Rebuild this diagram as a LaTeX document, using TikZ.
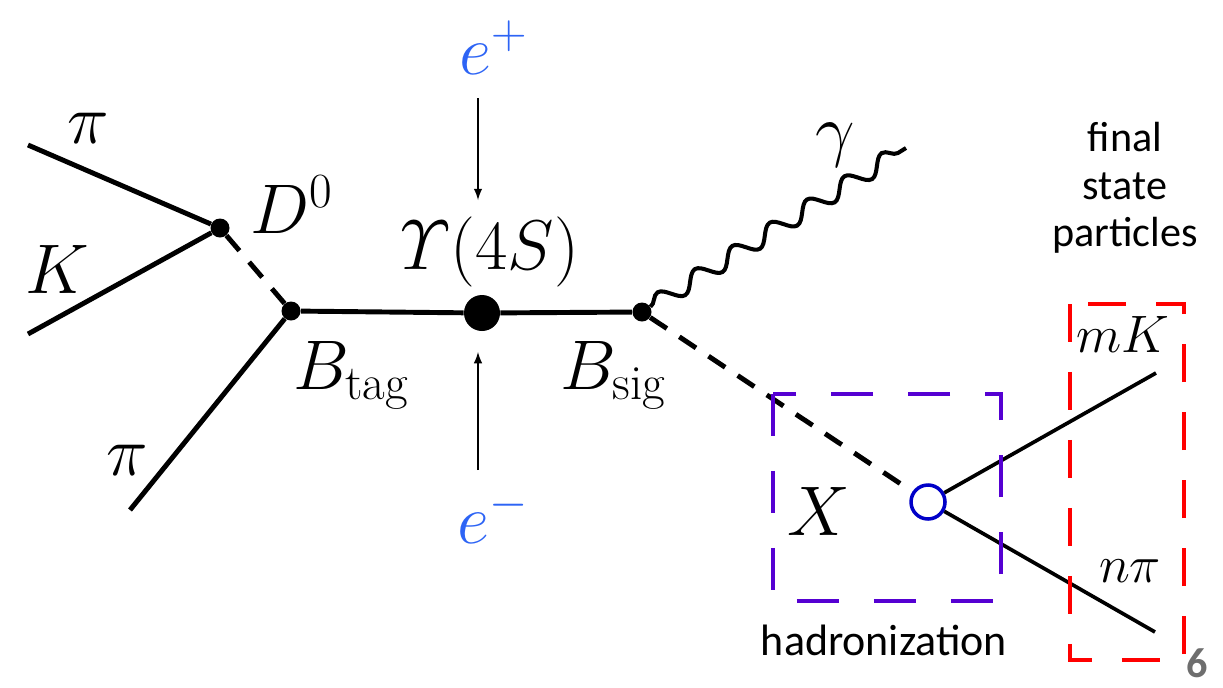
\documentclass[tikz,border=0pt]{standalone}
\usepackage{fix-cm}
\usepackage{amsmath}
\usepackage{fontspec}
\setsansfont{Carlito}
\usetikzlibrary{decorations.pathmorphing}

\definecolor{beamblue}{RGB}{45,100,245}
\definecolor{xblue}{RGB}{0,0,200}
\definecolor{hadviolet}{RGB}{85,0,210}
\definecolor{pagegray}{RGB}{110,110,110}

\begin{document}
\begin{tikzpicture}[x=0.02cm, y=-0.02cm, >=latex,
    vtx/.style={circle, fill, inner sep=0pt, minimum size=0.38cm},
    lbl/.style={font=\fontsize{40}{48}\selectfont, anchor=base, inner sep=0pt},
    sml/.style={font=\fontsize{30}{36}\selectfont, anchor=base, inner sep=0pt},
    sftxt/.style={font=\sffamily\fontsize{24}{27}\selectfont, inner sep=0pt},
    prt/.style={line width=2.8pt},
    dsh/.style={line width=2.8pt, dash pattern=on 0.4cm off 0.3cm}]
    \useasboundingbox (0,0) rectangle (1223,687);

    % 顶点
    \node[vtx] (d0) at (220,228) {};
    \node[vtx] (btag) at (291,311) {};
    \node[vtx, minimum size=0.72cm] (ups) at (482,313) {};
    \node[vtx] (bsig) at (642,312) {};
    \node[circle, draw=xblue, line width=2pt, fill=white, inner sep=0pt, minimum size=0.68cm] (xv) at (928,502) {};

    % 自由端点
    \coordinate (pia) at (28,145);
    \coordinate (ka) at (28,334);
    \coordinate (pib) at (130,510);
    \coordinate (gend) at (906,148);
    \coordinate (mkend) at (1156,373);
    \coordinate (npend) at (1155,632);
    \coordinate (epa) at (478,98);
    \coordinate (epb) at (478,200);
    \coordinate (ema) at (478,470);
    \coordinate (emb) at (478,352);

    % tag 一侧
    \draw[prt] (pia) -- (d0);
    \draw[prt] (ka) -- (d0);
    \draw[dsh] (d0) -- (btag);
    \draw[prt] (pib) -- (btag);
    \draw[prt] (btag) -- (ups) -- (bsig);

    % signal 一侧
    \draw[line width=2.3pt, decorate, decoration={snake, amplitude=0.17cm, segment length=0.88cm}] (bsig) -- (gend);
    \draw[dsh] (bsig) -- (xv);
    \draw[line width=2.1pt] (xv) -- (mkend);
    \draw[line width=2.1pt] (xv) -- (npend);

    % 束流
    \draw[->, line width=1.2pt] (epa) -- (epb);
    \draw[->, line width=1.2pt] (ema) -- (emb);

    % 虚线框
    \draw[hadviolet, line width=2.2pt, dash pattern=on 0.84cm off 0.7cm] (773,394) rectangle (1001,601);
    \draw[red, line width=2.2pt, dash pattern=on 0.76cm off 0.6cm] (1070,304) rectangle (1184,660);

    % 标注
    \node[lbl] (pitop) at (88,143) {$\pi$};
    \node[lbl] (kl) at (57,293) {$K$};
    \node[lbl] (pibot) at (127,475) {$\pi$};
    \node[lbl] (d0l) at (292,233) {$D^0$};
    \node[lbl] (btagl) at (351,389) {$B_{\mathrm{tag}}$};
    \node[lbl] (upsl) at (490,269) {$\varUpsilon(4S)$};
    \node[lbl] (bsigl) at (613,389) {$B_{\mathrm{sig}}$};
    \node[lbl] (gl) at (835,153) {$\gamma$};
    \node[lbl, beamblue] (ep) at (494,74) {$e^+$};
    \node[lbl, beamblue] (em) at (493,543) {$e^-$};
    \node[lbl] (xl) at (819,535) {$X$};
    \node[sml] (mkl) at (1123,352) {$mK$};
    \node[sml] (npl) at (1130,582) {$n\pi$};
    \node[sftxt, align=center] (fsl) at (1125,188) {final\\state\\particles};
    \node[sftxt, anchor=base, font=\sffamily\fontsize{25}{28}\selectfont] (hadl) at (884,655) {hadronization};
    \node[font=\sffamily\bfseries\fontsize{24}{28}\selectfont, text=pagegray, anchor=base, inner sep=0pt] (pg) at (1197,677) {6};
\end{tikzpicture}
\end{document}
